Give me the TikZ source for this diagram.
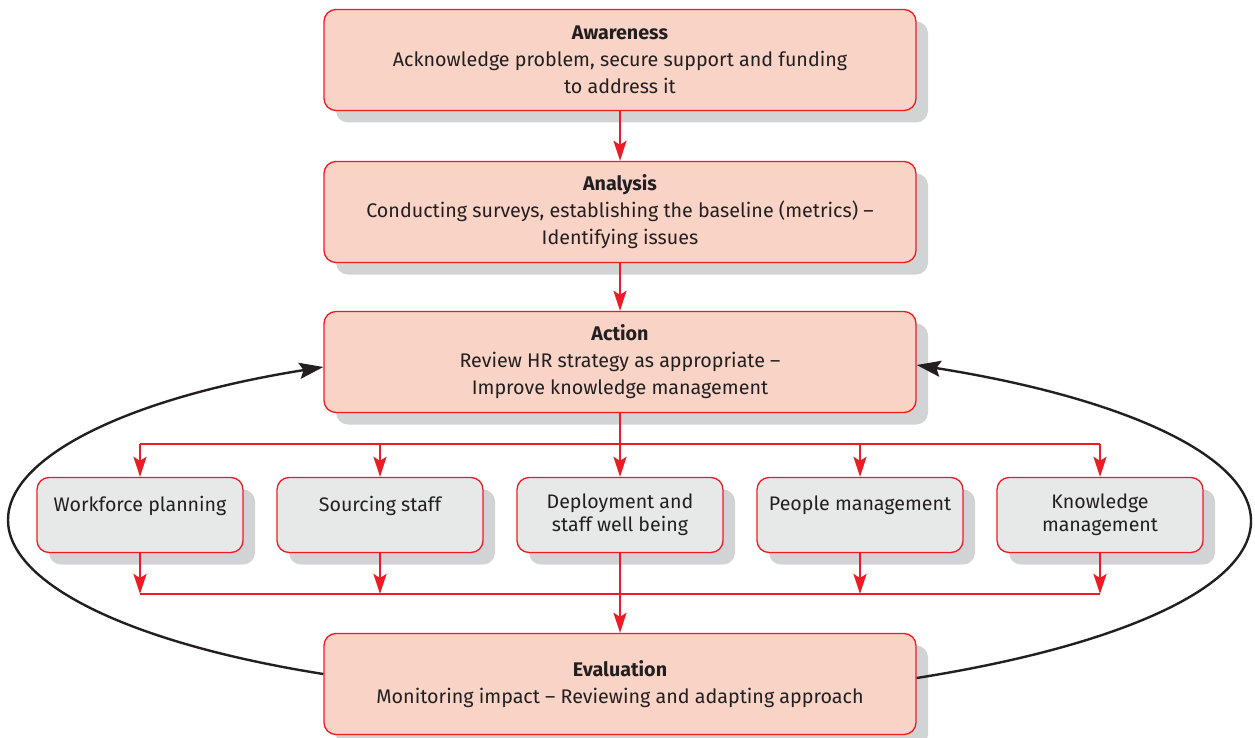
\documentclass[tikz,border=0pt]{standalone}
\usepackage{fontspec}
\setmainfont{Fira Sans}
\usetikzlibrary{arrows.meta,shadows}
\definecolor{boxred}{RGB}{237,28,36}
\definecolor{salmon}{RGB}{249,212,198}
\definecolor{taskgrey}{RGB}{231,232,232}
\definecolor{shadowgrey}{RGB}{209,211,212}
\definecolor{inkgrey}{RGB}{35,31,32}
\begin{document}
\begin{tikzpicture}[x=1pt, y=-1pt,
  stage/.style={draw=boxred, fill=salmon, rounded corners=12pt, line width=1.3pt,
    minimum width=592pt, minimum height=101pt, align=center, text=inkgrey,
    font=\fontsize{19.7}{27}\selectfont,
    drop shadow={shadow xshift=12pt, shadow yshift=-12pt, fill=shadowgrey, opacity=1}},
  task/.style={stage, fill=taskgrey, minimum width=206pt, minimum height=75pt,
    font=\fontsize{19.6}{23}\selectfont},
  redline/.style={draw=boxred, line width=2.6pt},
  redflow/.style={redline, -{Stealth[length=20pt, width=13pt, inset=4pt]}},
  feedback/.style={draw=inkgrey, line width=2.4pt, -{Stealth[length=24pt, width=16pt, inset=4pt]}}]
\useasboundingbox (0,0) rectangle (1255,738);

\node[stage] (aware) at (620,60) {\textbf{Awareness}\\Acknowledge problem, secure support and funding\\to address it};
\node[stage] (analysis) at (620,212) {\textbf{Analysis}\\Conducting surveys, establishing the baseline (metrics) --\\Identifying issues};
\node[stage] (action) at (620,362) {\textbf{Action}\\Review HR strategy as appropriate --\\Improve knowledge management};
\node[stage] (eval) at (620,684) {\textbf{Evaluation}\\Monitoring impact -- Reviewing and adapting approach};

\node[task] (wf) at (140,515) {Workforce planning\\\mbox{}};
\node[task] (src) at (380,515) {Sourcing staff\\\mbox{}};
\node[task] (dep) at (620,515) {Deployment and\\staff well being};
\node[task] (ppl) at (860,515) {People management\\\mbox{}};
\node[task] (know) at (1100,515) {Knowledge\\management};

\coordinate (bustop) at (620,444);
\coordinate (busbot) at (620,594);
\coordinate (lft) at (8,520);
\coordinate (rgt) at (1251,521);

\draw[redflow] (aware) -- (analysis);
\draw[redflow] (analysis) -- (action);
\draw[redflow] (action) -- (dep);
\draw[redflow] (dep) -- (eval);
\draw[redline] (wf.north |- bustop) -- (know.north |- bustop);
\draw[redline] (wf.south |- busbot) -- (know.south |- busbot);
\foreach \t in {wf,src,ppl,know} {
  \draw[redflow] (\t.north |- bustop) -- (\t);
  \draw[redflow] (\t) -- (\t.south |- busbot);
}

\draw[feedback] ([yshift=10pt]eval.west)
  to[out=171, in=-90, out distance=198pt, in distance=63pt] (lft)
  to[out=90, in=189, out distance=63pt, in distance=198pt] ([yshift=-5pt]action.west);
\draw[feedback] ([yshift=6pt]eval.east)
  to[out=9, in=-90, out distance=207pt, in distance=66pt] (rgt)
  to[out=90, in=-9, out distance=66pt, in distance=207pt] ([yshift=-3pt]action.east);
\end{tikzpicture}
\end{document}
